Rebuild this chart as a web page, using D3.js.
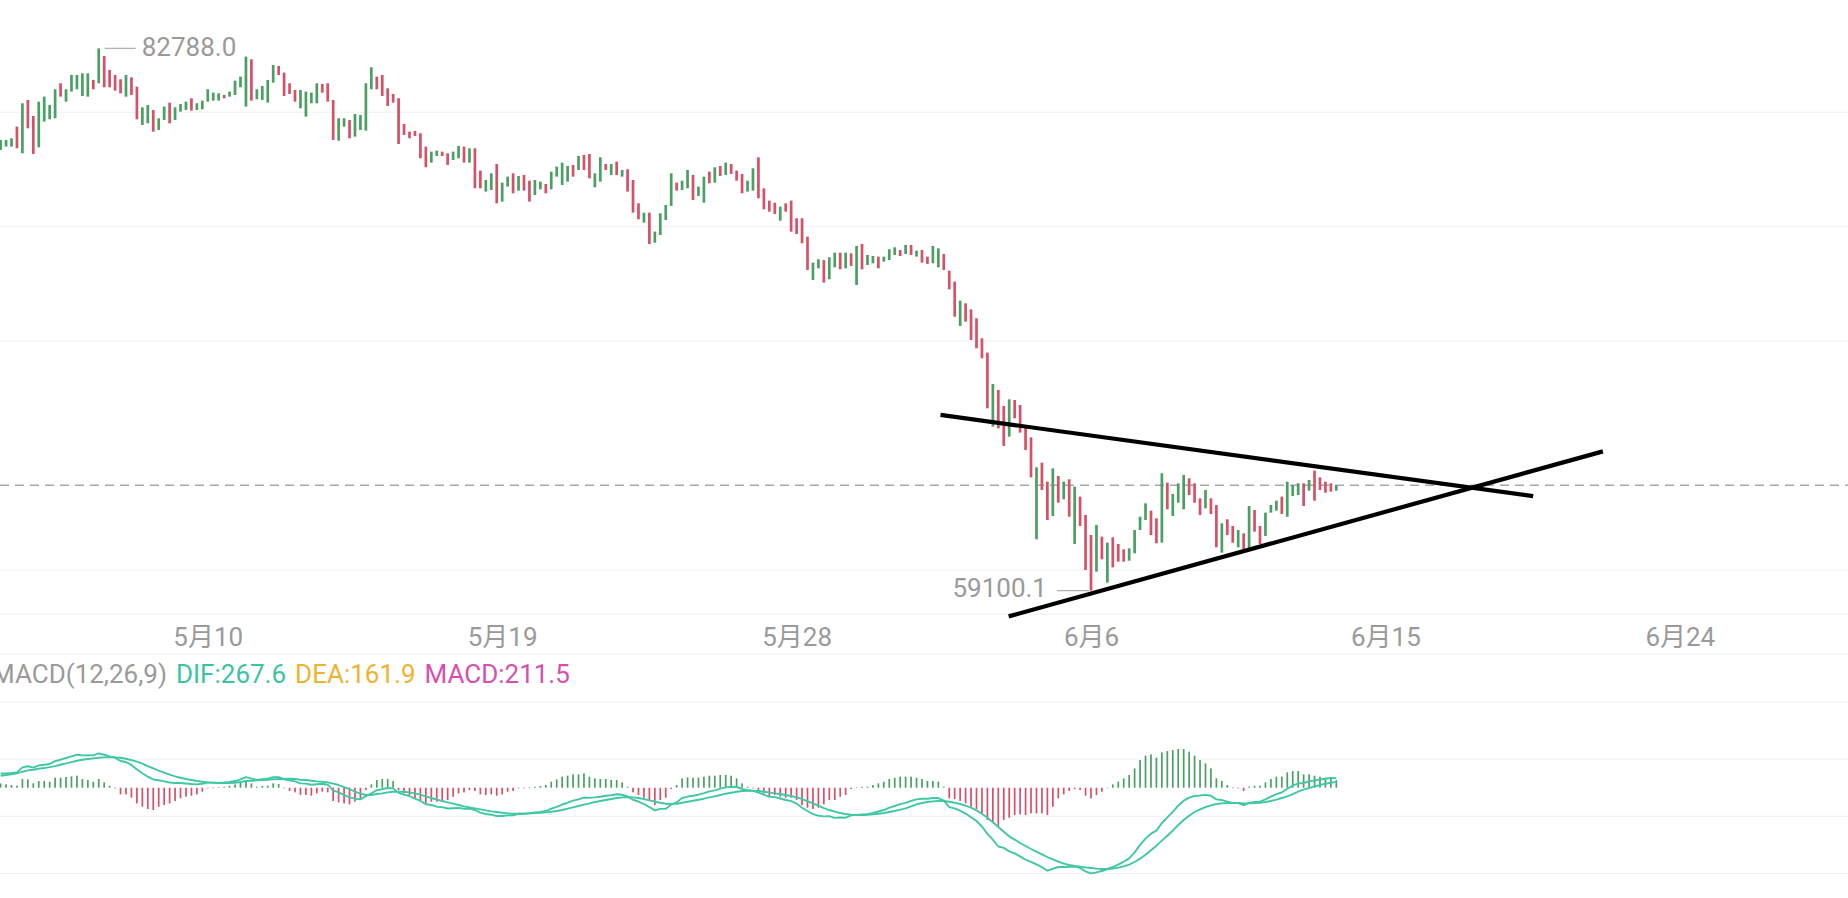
<!DOCTYPE html>
<html><head><meta charset="utf-8">
<script src="https://cdn.jsdelivr.net/npm/d3@7"></script>
<style>
html,body{margin:0;padding:0;background:#fff;overflow:hidden}
svg{display:block}
text{font-family:Roboto,"Noto Sans","Noto Sans CJK SC",sans-serif}
</style></head><body>
<svg id="chart" width="1848" height="898"></svg>
<script>
// ---- data ----
const startTime = "2024-05-03T16:00:00";   // first 4h candle
const intervalHours = 4;
const viewStart = "2024-05-03T16:00:00";
const viewEnd = "2024-06-29T03:24:00";

const opens = [
78350,78496,78496,79370,78205,80535,79836,78467,79588,79690,
79734,81263,80462,80899,81001,80710,80680,81409,81263,82457,
81845,81627,81438,80680,81525,81117,79443,79515,80098,79224,
79661,80418,79661,80025,80098,80608,80098,80127,80462,80506,
80506,80753,80680,80753,81088,80244,82311,80564,80535,80418,
81292,82020,81729,81263,80972,80171,79807,80389,80389,81234,
81263,80535,78758,79370,79661,78933,79224,79195,81001,81554,
81627,81044,80797,80608,79486,79151,79180,79078,78496,77797,
78088,78277,78205,77913,77986,78496,77797,78423,77448,76530,
76603,77738,76093,76748,77331,76574,77258,77010,76384,76632,
76865,76632,77185,76821,76967,77695,77477,78132,78176,76719,
76967,77738,77258,77841,77185,77506,77040,76020,75175,75612,
74301,74636,75292,75904,76923,76603,76676,77258,76341,76049,
77404,76923,77651,77258,77738,77448,77302,76530,76574,78030,
76676,76137,76049,75263,76020,76137,75365,75365,74564,72671,
73181,73544,72700,73224,73865,73180,73836,72452,74244,73326,
73399,73690,73472,73544,73763,73981,73807,74200,73690,73981,
73690,73399,73224,73807,73078,72598,70661,71651,71389,70996,
70122,69496,66263,67865,67166,65826,67428,67209,66336,65797,
61340,64690,63860,62360,64107,63088,63962,61137,63205,62404,
61530,59928,61457,59447,61428,61136,60903,60408,60728,61748,
62185,62593,62258,61195,63816,62360,62942,62651,64005,63787,
63131,62695,63131,62840,60758,62214,61923,60991,61602,60947,
62622,61923,61486,62505,62593,63204,62330,63233,63277,63787,
63466,64340,64049,63860,63787,63466
];
const closes = [
78787,78787,78860,78423,80389,79297,78176,80462,80680,80316,
81001,80680,81001,81627,81627,81700,81700,81001,82788,81088,
81088,80943,80826,81627,80753,79690,80214,80316,79151,79734,
80244,79515,80214,80360,80462,80069,80389,80506,81001,80855,
80826,80608,80899,81380,81554,82428,80506,81001,81146,81409,
82064,81627,80710,80797,80462,80972,80899,80855,81263,80855,
80462,78787,79734,79734,78860,79923,79879,81263,81962,81001,
80710,80273,80418,78613,79006,78860,78962,77986,77593,78277,
78321,78088,77695,78277,78525,77797,78423,76676,76676,77040,
77331,76020,76923,77185,76457,77215,76574,76093,77040,76967,
76457,77404,77622,77797,77651,77185,78088,77477,77112,77331,
78030,77477,77738,77258,77477,76530,75612,75321,75612,74243,
74783,75583,75947,77331,76574,77010,77477,76166,76748,77185,
76894,77593,77215,77797,77302,77010,76457,77010,77549,76239,
75758,75656,75554,75875,75656,74783,74680,74272,73108,73428,
73573,72554,73661,73865,73137,73865,73282,74156,73137,73763,
73719,73180,73690,74010,74098,73719,74200,73763,73952,73428,
73370,74156,74054,73107,72263,71069,71768,70850,70049,69685,
69248,67064,68127,66190,65418,67457,66627,66001,65243,64049,
64486,63496,62185,64442,62942,63860,62331,63641,61923,60001,
59100.1,61967,60466,61195,60117,60364,60364,60947,61748,62330,
62913,61529,61166,64224,62651,63321,63787,64151,63277,62942,
62403,63496,62447,60991,62039,61529,61195,61748,60874,62796,
61675,61136,62505,62840,63030,62447,63860,63714,63787,62796,
63932,63030,63496,63379,63423,63700
];

const difValues = [
396,401,410,429,569,601,564,625,643,662,
746,784,831,876,924,905,909,905,961,923,
877,839,747,719,634,509,406,308,229,210,
178,145,131,130,117,103,94,112,144,142,
136,145,159,186,233,294,256,219,238,252,
293,294,238,206,178,122,113,84,97,112,
84,-74,-130,-201,-270,-308,-326,-237,-159,-70,
-38,-10,-19,-144,-192,-233,-309,-368,-463,-485,
-532,-545,-583,-574,-565,-588,-583,-625,-700,-737,
-756,-793,-794,-774,-775,-730,-729,-716,-695,-677,
-653,-588,-537,-471,-420,-364,-327,-276,-285,-271,
-252,-224,-210,-182,-197,-247,-337,-392,-457,-542,
-635,-593,-588,-476,
-411,-290,-248,-224,-196,
-154,-103,-75,-28,10,28,19,-33,-70,-89,
-140,-192,-257,-262,-303,-345,-373,-443,-560,-653,
-738,-784,-803,-798,-845,-835,-840,-775,-762,-751,
-742,-708,-667,-625,-559,-513,-462,-424,-368,-327,
-308,-308,-290,-289,-359,-542,-579,-644,-724,-826,
-933,-1087,-1293,-1455,-1647,-1685,-1782,-1838,-1922,-2016,
-2076,-2150,-2225,-2324,-2272,-2221,-2221,-2212,-2212,-2244,
-2342,-2399,-2370,-2333,-2277,-2221,-2155,-2072,-1978,-1811,
-1600,-1427,-1288,-1203,-989,-831,-677,-504,-364,-280,
-233,-219,-201,-224,-327,-346,-392,-427,-432,-486,
-425,-401,-392,-327,-252,-182,-135,-29,57,122,
131,178,205,229,252,271,267.6
];
const deaValues = [
336,355,373,401,448,485,504,532,550,578,
606,644,681,718,756,784,802,821,840,849,
849,849,840,812,774,728,672,606,541,476,
420,364,317,280,243,215,187,168,149,140,
131,131,131,140,159,187,196,205,215,224,
233,243,243,252,243,224,215,196,177,168,
149,112,75,19,-37,-112,-168,-205,-205,-177,
-159,-131,-112,-112,-112,-131,-159,-196,-243,-289,
-336,-373,-411,-448,-485,-522,-550,-578,-606,-634,
-662,-681,-700,-718,-728,-728,-728,-718,-709,-700,
-690,-672,-653,-625,-588,-550,-513,-476,-439,-401,
-373,-345,-317,-289,-271,-261,-271,-289,-317,-355,
-392,-420,-448,-457,
-448,-420,-392,-364,-336,
-308,-271,-243,-205,-168,-140,-112,-93,-84,-84,
-93,-112,-131,-159,-177,-205,-233,-271,-317,-373,
-439,-504,-569,-625,-672,-709,-737,-756,-765,-765,
-756,-746,-728,-709,-681,-653,-616,-578,-522,-467,
-429,-401,-383,-373,-373,-392,-420,-457,-504,-560,
-634,-728,-840,-970,-1101,-1232,-1362,-1455,-1549,-1633,
-1717,-1791,-1866,-1941,-2006,-2071,-2127,-2165,-2193,-2211,
-2230,-2249,-2267,-2277,-2277,-2267,-2239,-2202,-2155,-2081,
-1987,-1875,-1754,-1623,-1483,-1344,-1204,-1045,-905,-784,
-681,-606,-541,-494,-457,-439,-429,-429,-429,-439,
-439,-429,-420,-401,-373,-336,-289,-243,-177,-112,
-56,-9,37,75,112,140,161.9
];
const macdValues = [
121,93,75,56,243,233,121,187,187,168,
280,280,299,317,336,243,215,168,243,149,
56,-20,-187,-187,-280,-439,-532,-597,-625,-532,
-485,-439,-373,-299,-252,-224,-187,-112,-10,5,
10,28,56,93,149,215,121,28,47,56,
121,103,-10,-93,-131,-205,-205,-224,-159,-112,
-131,-373,-410,-439,-467,-392,-317,-65,93,215,
243,243,187,-65,-159,-205,-299,-345,-439,-392,
-392,-345,-345,-252,-159,-131,-65,-93,-187,-205,
-187,-224,-187,-112,-93,-3,-2,5,28,47,
75,168,233,308,336,373,373,401,308,261,
243,243,215,215,149,28,-131,-205,-280,-373,
-485,-345,-280,-37,
75,261,289,280,280,
308,336,336,355,355,336,261,121,28,-10,
-93,-159,-252,-205,-252,-280,-280,-345,-485,-560,
-597,-560,-467,-345,-345,-252,-205,-37,5,28,
28,75,121,168,243,280,308,308,308,280,
243,187,187,168,28,-299,-317,-373,-439,-532,
-597,-718,-905,-970,-1092,-905,-840,-765,-746,-765,
-718,-718,-718,-765,-532,-299,-187,-93,-37,-65,
-224,-299,-205,-112,0,93,168,261,355,541,
774,896,933,840,989,1026,1054,1082,1082,1008,
896,774,681,541,261,187,75,5,-5,-93,
28,56,56,149,243,308,308,429,467,467,
373,373,336,308,280,261,211.5
];

const tickDates = ["2024-05-10T00:00:00","2024-05-19T00:00:00","2024-05-28T00:00:00","2024-06-06T00:00:00","2024-06-15T00:00:00","2024-06-24T00:00:00"];
const tickLabels = ["5月10","5月19","5月28","6月6","6月15","6月24"];
const priceGrid = [60000,70000,75000,80000];
const macdGrid = [2400,800,-800,-2400];
const macdParams = "MACD(12,26,9)";

// hand-drawn triangle lines: [time, price] endpoints
const trendUpper = [["2024-06-01T09:36:00",66776],["2024-06-19T12:24:00",63224]];
const trendLower = [["2024-06-03T11:36:00",57973],["2024-06-21T15:36:00",65182]];

// ---- styles ----
const UP = "#4a9f62", DOWN = "#d65067";
const LINE = "#40c8a6";
const GRID = "#f0f0f0";
const TXT = "#9a9a9a";

// ---- drawing ----
const svg = d3.select("#chart");
const W = 1848;
const parse = s => new Date(s);
const t0 = parse(startTime);
const times = opens.map((_, i) => new Date(t0.getTime() + i * intervalHours * 3600e3));

const x = d3.scaleTime().domain([parse(viewStart), parse(viewEnd)]).range([0.6, W]);
const y = d3.scaleLinear().domain([60000, 80000]).range([570, 112.2]);
const ym = d3.scaleLinear().domain([-2400, 2400]).range([873.4, 702]);

// price grid
svg.append("g").selectAll("line").data(priceGrid).join("line")
  .attr("x1", 0).attr("x2", W)
  .attr("y1", d => y(d)).attr("y2", d => y(d))
  .attr("stroke", GRID).attr("stroke-width", 1);

// macd grid
svg.append("g").selectAll("line").data(macdGrid).join("line")
  .attr("x1", 0).attr("x2", W)
  .attr("y1", d => ym(d)).attr("y2", d => ym(d))
  .attr("stroke", GRID).attr("stroke-width", 1);

// x axis band
const axisY = 614;
const axis = d3.axisBottom(x)
  .tickValues(tickDates.map(parse))
  .tickFormat((d, i) => tickLabels[i])
  .tickSize(0).tickPadding(14);
const gx = svg.append("g").attr("transform", `translate(0,${axisY})`).call(axis);
gx.select(".domain").attr("stroke", GRID).attr("d", `M0,0H${W}`);
gx.selectAll("text").attr("fill", TXT).attr("font-size", 26)
  .attr("font-family", 'Roboto,"Noto Sans CJK SC",sans-serif');
svg.append("line").attr("x1", 0).attr("x2", W).attr("y1", 654).attr("y2", 654)
  .attr("stroke", GRID);

// last price dashed line
const lastClose = closes[closes.length - 1];
svg.append("line").attr("x1", 0).attr("x2", W)
  .attr("y1", y(lastClose)).attr("y2", y(lastClose))
  .attr("stroke", "#a8a8a8").attr("stroke-width", 1.4)
  .attr("stroke-dasharray", "9,6");

// candles
const bodyW = 2.7;
svg.append("g").selectAll("rect").data(opens).join("rect")
  .attr("x", (d, i) => x(times[i]) - bodyW / 2)
  .attr("width", bodyW)
  .attr("y", (d, i) => y(Math.max(d, closes[i])))
  .attr("height", (d, i) => Math.max(1, Math.abs(y(d) - y(closes[i]))))
  .attr("fill", (d, i) => closes[i] >= d ? UP : DOWN);

// extremes labels
const hiVals = opens.map((o, i) => Math.max(o, closes[i]));
const loVals = opens.map((o, i) => Math.min(o, closes[i]));
const hiI = d3.maxIndex(hiVals), loI = d3.minIndex(loVals);
const fmt = d3.format(".1f");
const hx = x(times[hiI]), hy = y(hiVals[hiI]);
svg.append("line").attr("x1", hx + 6).attr("x2", hx + 37).attr("y1", hy).attr("y2", hy)
  .attr("stroke", "#b0b0b0").attr("stroke-width", 1.3);
svg.append("text").attr("x", hx + 43).attr("y", hy + 1).attr("dominant-baseline", "middle")
  .attr("fill", TXT).attr("font-size", 26).text(fmt(hiVals[hiI]));
const lx = x(times[loI]), ly = y(loVals[loI]);
svg.append("line").attr("x1", lx - 34).attr("x2", lx - 2).attr("y1", ly).attr("y2", ly)
  .attr("stroke", "#b0b0b0").attr("stroke-width", 1.3);
svg.append("text").attr("x", lx - 44).attr("y", ly).attr("dominant-baseline", "middle")
  .attr("text-anchor", "end")
  .attr("fill", TXT).attr("font-size", 26).text(fmt(loVals[loI]));

// trend lines
const tl = d3.line().x(d => x(parse(d[0]))).y(d => y(d[1]));
[trendUpper, trendLower].forEach(seg => {
  svg.append("path").attr("d", tl(seg)).attr("fill", "none")
    .attr("stroke", "#000").attr("stroke-width", 4.2);
});

// MACD histogram
const histW = 1.7;
svg.append("g").selectAll("rect").data(macdValues).join("rect")
  .attr("x", (d, i) => x(times[i]) - histW / 2)
  .attr("width", histW)
  .attr("y", d => d >= 0 ? ym(d) : ym(0))
  .attr("height", d => Math.max(0.6, Math.abs(ym(d) - ym(0))))
  .attr("fill", d => d >= 0 ? UP : DOWN);

// DIF / DEA lines
const ml = d3.line().x((d, i) => x(times[i])).y(d => ym(d));
[deaValues, difValues].forEach(arr => {
  svg.append("path").attr("d", ml(arr)).attr("fill", "none")
    .attr("stroke", LINE).attr("stroke-width", 1.9).attr("stroke-linejoin", "round");
});

// MACD legend
const legend = [
  {t: macdParams, c: TXT},
  {t: "DIF:" + fmt(difValues[difValues.length - 1]), c: "#3cc3a2"},
  {t: "DEA:" + fmt(deaValues[deaValues.length - 1]), c: "#edb431"},
  {t: "MACD:" + fmt(macdValues[macdValues.length - 1]), c: "#d74fae"}
];
let lxPos = -8;
legend.forEach(item => {
  const tnode = svg.append("text").attr("x", lxPos).attr("y", 683)
    .attr("fill", item.c).attr("font-size", 26).text(item.t);
  lxPos += tnode.node().getComputedTextLength() + 9;
});
</script>
</body></html>
